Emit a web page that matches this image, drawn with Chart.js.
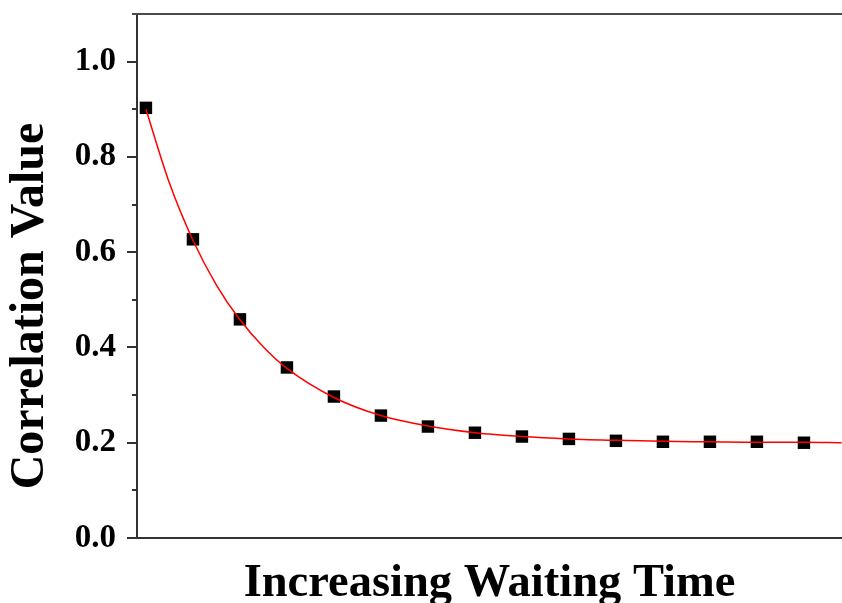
<!DOCTYPE html>
<html>
<head>
<meta charset="utf-8">
<script src="https://cdn.jsdelivr.net/npm/chart.js@4.4.1/dist/chart.umd.min.js"></script>
<style>
  html, body { margin: 0; padding: 0; background: #fff; }
  canvas { display: block; }
</style>
</head>
<body>
<canvas id="chart" width="842" height="603"></canvas>
<script>
// measured correlation at each waiting-time step
const stepIndex = [0, 1, 2, 3, 4, 5, 6, 7, 8, 9, 10, 11, 12, 13, 14];
const correlation = [0.903, 0.627, 0.459, 0.358, 0.297, 0.257, 0.234, 0.221,
  0.213, 0.208, 0.204, 0.202, 0.202, 0.202, 0.200];

// exponential decay fit, sampled along the red curve
const fitX = [0, 0.5, 1, 1.5, 2, 2.5, 3, 4, 5, 6, 7, 8, 9, 10, 11, 12, 13, 14, 14.8];
const fitY = [0.9, 0.745, 0.625, 0.531, 0.458, 0.401, 0.356, 0.295, 0.257, 0.235,
  0.221, 0.213, 0.208, 0.205, 0.203, 0.202, 0.201, 0.201, 0.200];

const yTicks = ["0.0", "0.2", "0.4", "0.6", "0.8", "1.0"];

const FONT = "'Liberation Serif', 'Times New Roman', serif";
const AXIS = "#333";

// short minor ticks on the y axis + top frame line
const frame = {
  id: "frame",
  afterDraw(chart) {
    const { ctx, chartArea, scales } = chart;
    const y = scales.y;
    ctx.save();
    ctx.strokeStyle = AXIS;
    ctx.lineWidth = 2;
    y.ticks.forEach((t) => {
      if (Math.round(t.value * 10) % 2 === 1) {
        const py = Math.round(y.getPixelForValue(t.value));
        ctx.beginPath();
        ctx.moveTo(chartArea.left - 5, py);
        ctx.lineTo(chartArea.left, py);
        ctx.stroke();
      }
    });
    ctx.strokeStyle = "#4a4a4a";
    ctx.beginPath();
    ctx.moveTo(chartArea.left - 5, chartArea.top);
    ctx.lineTo(chartArea.right, chartArea.top);
    ctx.stroke();
    ctx.restore();
  },
};

const noPad = (scale) => {
  scale.paddingTop = 0;
  scale.paddingBottom = 0;
  scale.paddingLeft = 0;
  scale.paddingRight = 0;
};

new Chart(document.getElementById("chart"), {
  type: "scatter",
  data: {
    datasets: [
      {
        label: "Correlation",
        data: stepIndex.map((x, i) => ({ x, y: correlation[i] })),
        pointStyle: "rect",
        pointRadius: 8.8,
        pointBackgroundColor: "#000",
        pointBorderColor: "#000",
        pointBorderWidth: 0,
        showLine: false,
        order: 1,
      },
      {
        label: "Fit",
        data: fitX.map((x, i) => ({ x, y: fitY[i] })),
        showLine: true,
        borderColor: "#ff0000",
        borderWidth: 1.5,
        pointRadius: 0,
        cubicInterpolationMode: "monotone",
        order: 0,
      },
    ],
  },
  options: {
    responsive: false,
    animation: false,
    layout: { autoPadding: false, padding: { top: 14, right: 0, left: 0, bottom: 0 } },
    plugins: {
      legend: { display: false },
      tooltip: { enabled: false },
    },
    scales: {
      x: {
        type: "linear",
        min: -0.19,
        max: 14.81,
        ticks: { display: false },
        grid: { display: false },
        border: { display: true, color: AXIS, width: 2 },
        title: {
          display: true,
          text: "Increasing Waiting Time",
          color: "#000",
          font: { family: FONT, size: 46.5, weight: "bold", lineHeight: 0.8 },
          padding: { top: 0, bottom: 0 },
        },
        afterFit(scale) {
          scale.height = 65;
          noPad(scale);
        },
      },
      y: {
        type: "linear",
        min: 0,
        max: 1.1,
        ticks: {
          stepSize: 0.1,
          padding: 11,
          color: "#000",
          font: { family: FONT, size: 33, weight: "bold" },
          callback: (v) => {
            const k = Math.round(v * 10);
            return k % 2 === 0 ? yTicks[k / 2] : "";
          },
        },
        grid: {
          drawOnChartArea: false,
          drawTicks: true,
          tickLength: 10,
          lineWidth: 2,
          color: (c) =>
            c.tick && Math.round(c.tick.value * 10) % 2 === 0 ? AXIS : "rgba(0,0,0,0)",
        },
        border: { display: true, color: AXIS, width: 2 },
        title: {
          display: true,
          // trailing spaces keep the label sitting a little below the axis middle
          text: "Correlation Value     ",
          color: "#000",
          font: { family: FONT, size: 48, weight: "bold", lineHeight: 1.2 },
          padding: { top: 2, bottom: 0 },
        },
        afterFit(scale) {
          scale.width = 137;
          noPad(scale);
        },
      },
    },
  },
  plugins: [frame],
});
</script>
</body>
</html>
